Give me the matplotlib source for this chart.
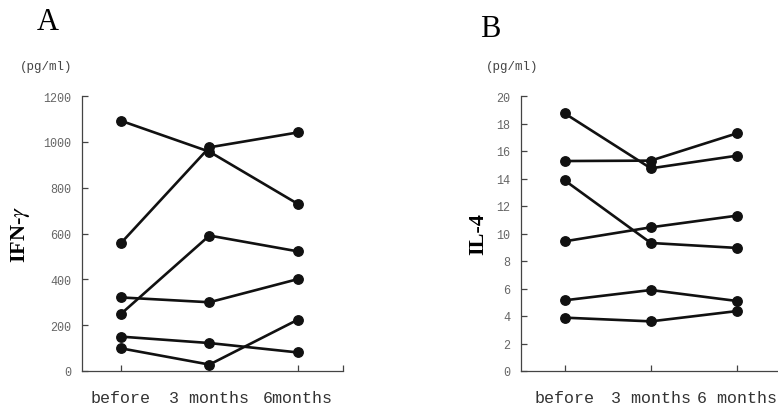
# -*- coding: utf-8 -*-
"""
IFN-gamma and IL-4 levels before / 3 months / 6 months (paired lines per subject)
Values read off the reference figure.
"""

import matplotlib
matplotlib.use('Agg')
import matplotlib.pyplot as plt

plt.rcParams['mathtext.fontset'] = 'stix'

# ── Data ──────────────────────────────────────────────────────────────────────
labels_a = ['before', '3 months', '6months']
labels_b = ['before', '3 months', '6 months']

# IFN-gamma (pg/ml), one list per subject: before, 3 months, 6 months
ifn_s1 = [1092, 957, 729]
ifn_s2 = [558, 976, 1041]
ifn_s3 = [249, 591, 522]
ifn_s4 = [321, 300, 401]
ifn_s5 = [150, 122, 81]
ifn_s6 = [99, 28, 224]
ifn_series = [ifn_s1, ifn_s2, ifn_s3, ifn_s4, ifn_s5, ifn_s6]

# IL-4 (pg/ml)
il4_s1 = [18.74, 14.74, 15.66]
il4_s2 = [15.27, 15.30, 17.29]
il4_s3 = [13.87, 9.31, 8.95]
il4_s4 = [9.43, 10.45, 11.30]
il4_s5 = [5.14, 5.89, 5.09]
il4_s6 = [3.88, 3.61, 4.36]
il4_series = [il4_s1, il4_s2, il4_s3, il4_s4, il4_s5, il4_s6]

ifn_ticks = [0, 200, 400, 600, 800, 1000, 1200]
il4_ticks = list(range(0, 21, 2))

# ── Plot ──────────────────────────────────────────────────────────────────────
fig = plt.figure(figsize=(7.78, 4.10), dpi=100)
ax_a = fig.add_axes([82 / 778, 38 / 410, 261 / 778, 275 / 410])
ax_b = fig.add_axes([521 / 778, 38 / 410, 261 / 778, 275 / 410])

MONO = 'Liberation Mono'
SERIF = 'Liberation Serif'


def draw_panel(ax, series, labels, yticks, ylim, xlim, ylabel, ylab_x):
    x = [1, 2, 3]
    for s in series:
        ax.plot(x, s, color='#111111', linewidth=1.9, marker='o',
                markersize=6.8, solid_capstyle='round', clip_on=False)
    ax.set_xlim(*xlim)
    ax.set_ylim(*ylim)
    ax.set_xticks(x + [xlim[1]])
    ax.set_xticklabels(labels + [''], fontfamily=MONO, fontsize=12,
                       color='#333333')
    ax.set_yticks(yticks)
    ax.set_yticklabels([str(t) for t in yticks], fontfamily=MONO,
                       fontsize=8.5, color='#666666')
    ax.tick_params(axis='x', direction='in', length=4, width=0.9,
                   color='#444444', pad=14)
    ax.tick_params(axis='y', direction='in', length=4, width=0.9,
                   color='#444444', pad=8)
    for side in ('top', 'right'):
        ax.spines[side].set_visible(False)
    for side in ('left', 'bottom'):
        ax.spines[side].set_color('#444444')
        ax.spines[side].set_linewidth(0.9)
    ax.set_ylabel(ylabel, fontfamily=SERIF, fontweight='bold', fontsize=16)
    ax.yaxis.set_label_coords(ylab_x, 0.5)


draw_panel(ax_a, ifn_series, labels_a, ifn_ticks, (0, 1200), (0.56, 3.51),
           r'IFN-$\gamma$', -0.19)
draw_panel(ax_b, il4_series, labels_b, il4_ticks, (0, 20), (0.495, 3.52),
           'IL-4', -0.124)

# panel letters and units
fig.text(37 / 778, (410 - 30) / 410, 'A', fontfamily=SERIF, fontsize=22,
         va='baseline', ha='left')
fig.text(480 / 778, (410 - 37) / 410, 'B', fontfamily=SERIF, fontsize=22,
         va='baseline', ha='left')
fig.text(20 / 778, (410 - 67) / 410, '(pg/ml)', fontfamily=MONO, fontsize=9,
         color='#444444', va='center', ha='left')
fig.text(486 / 778, (410 - 67) / 410, '(pg/ml)', fontfamily=MONO, fontsize=9,
         color='#444444', va='center', ha='left')

fig.savefig('out.png', dpi=100)
